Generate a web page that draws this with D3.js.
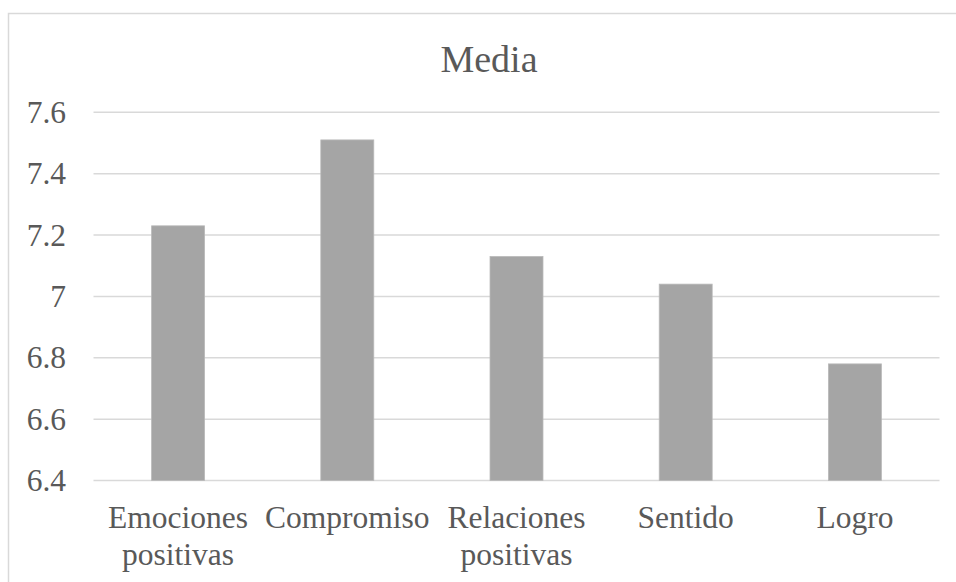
<!DOCTYPE html>
<html>
<head>
<meta charset="utf-8">
<script src="https://cdn.jsdelivr.net/npm/d3@7"></script>
<style>
  html, body { margin: 0; padding: 0; background: #fff; }
  svg { display: block; }
</style>
</head>
<body>
<svg id="chart" width="956" height="582"></svg>
<script>
// Mean score per dimension
const categories = [
  ["Emociones", "positivas"],
  ["Compromiso"],
  ["Relaciones", "positivas"],
  ["Sentido"],
  ["Logro"]
];
const values = [7.23, 7.51, 7.13, 7.04, 6.78];
const yTicks = [6.4, 6.6, 6.8, 7.0, 7.2, 7.4, 7.6];
const yTickLabels = ["6.4", "6.6", "6.8", "7", "7.2", "7.4", "7.6"];
const title = "Media";

const W = 956, H = 582;
const plot = { left: 93.5, right: 939.5, top: 112.3, bottom: 480.5 };
const FONT = "'Liberation Serif', 'Times New Roman', Times, serif";
const INK = "#595959";

const svg = d3.select("#chart");

// outer chart frame
svg.append("rect")
  .attr("x", 8.5).attr("y", 13.5)
  .attr("width", W + 10).attr("height", H + 10)
  .attr("fill", "none").attr("stroke", "#d9d9d9").attr("stroke-width", 1.5);

const keys = categories.map(c => c.join(" "));
const x = d3.scaleBand()
  .domain(keys)
  .range([plot.left, plot.right])
  .paddingInner(0.687)
  .paddingOuter(0.3435);

const y = d3.scaleLinear()
  .domain([6.4, 7.6])
  .range([plot.bottom, plot.top]);

// horizontal gridlines
svg.append("g").selectAll("line")
  .data(yTicks)
  .join("line")
  .attr("x1", plot.left).attr("x2", plot.right)
  .attr("y1", d => y(d)).attr("y2", d => y(d))
  .attr("stroke", "#d9d9d9").attr("stroke-width", 1.5);

// y tick labels
svg.append("g").selectAll("text")
  .data(yTicks)
  .join("text")
  .attr("x", 66)
  .attr("y", d => y(d) + 10.5)
  .attr("text-anchor", "end")
  .attr("font-family", FONT)
  .attr("font-size", 31.5)
  .attr("fill", INK)
  .text((d, i) => yTickLabels[i]);

// bars
svg.append("g").selectAll("rect")
  .data(values)
  .join("rect")
  .attr("x", (d, i) => x(keys[i]))
  .attr("width", x.bandwidth())
  .attr("y", d => y(d))
  .attr("height", d => y(6.4) - y(d))
  .attr("fill", "#a5a5a5")
  .attr("stroke", "#b8b8b8").attr("stroke-width", 0.8);

// category labels (one or two lines)
const xl = svg.append("g").selectAll("text")
  .data(categories)
  .join("text")
  .attr("text-anchor", "middle")
  .attr("font-family", FONT)
  .attr("font-size", 31.5)
  .attr("fill", INK)
  .attr("transform", (d, i) => `translate(${x(keys[i]) + x.bandwidth() / 2},528)`);
xl.selectAll("tspan")
  .data(d => d)
  .join("tspan")
  .attr("x", 0)
  .attr("y", (d, j) => j * 37)
  .text(d => d);

// title, centred on the chart frame
svg.append("text")
  .attr("x", 489)
  .attr("y", 72)
  .attr("text-anchor", "middle")
  .attr("font-family", FONT)
  .attr("font-size", 38)
  .attr("fill", INK)
  .text(title);
</script>
</body>
</html>
